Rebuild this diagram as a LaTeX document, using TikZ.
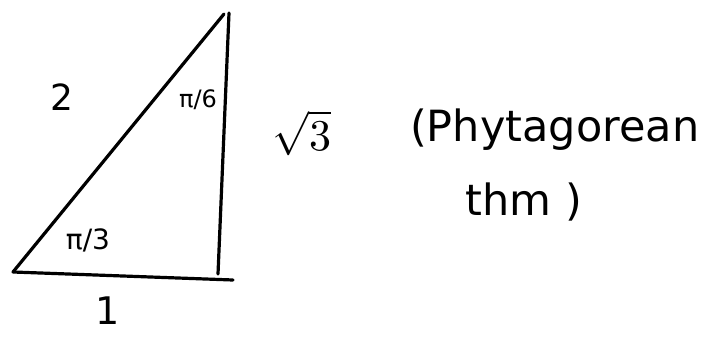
\documentclass[tikz,border=0pt]{standalone}
\usepackage{fontspec}
\usepackage{unicode-math}
\setmainfont{DejaVu Sans}
\setmathfont{Latin Modern Math}
\begin{document}
\begin{tikzpicture}[x=1pt,y=-1pt,
  edge/.style={line width=3.2pt,line cap=round,line join=round},
  lbl/.style={inner sep=0pt,font=\fontsize{36}{38}\selectfont},
  big/.style={inner sep=0pt,font=\fontsize{43}{45}\selectfont},
  ang/.style={inner sep=0pt,font=\fontsize{28}{30}\selectfont}]
\useasboundingbox (0,0) rectangle (707,340);
\coordinate (A) at (13,272);
\coordinate (B) at (224,14);
\coordinate (T) at (229,13);
\coordinate (C) at (218,274);
\coordinate (D) at (233,280);
\draw[edge] (A) -- (B);
\draw[edge] (T) -- (C);
\draw[edge] (A) -- (D);
\node[lbl] (two) at (62,97) {2};
\node[ang,font=\fontsize{24}{26}\selectfont] (p6) at (198,100) {π/6};
\node[ang] (p3) at (88,240) {π/3};
\node[lbl,font=\fontsize{38}{40}\selectfont] (one) at (108,311) {1};
\node[lbl,font=\fontsize{44}{46}\selectfont] (r3) at (302,133) {$\sqrt{3}$};
\node[big,anchor=west] (pt) at (410,130) {(Phytagorean};
\node[big] (thm) at (524,202) {thm )};
\end{tikzpicture}
\end{document}
